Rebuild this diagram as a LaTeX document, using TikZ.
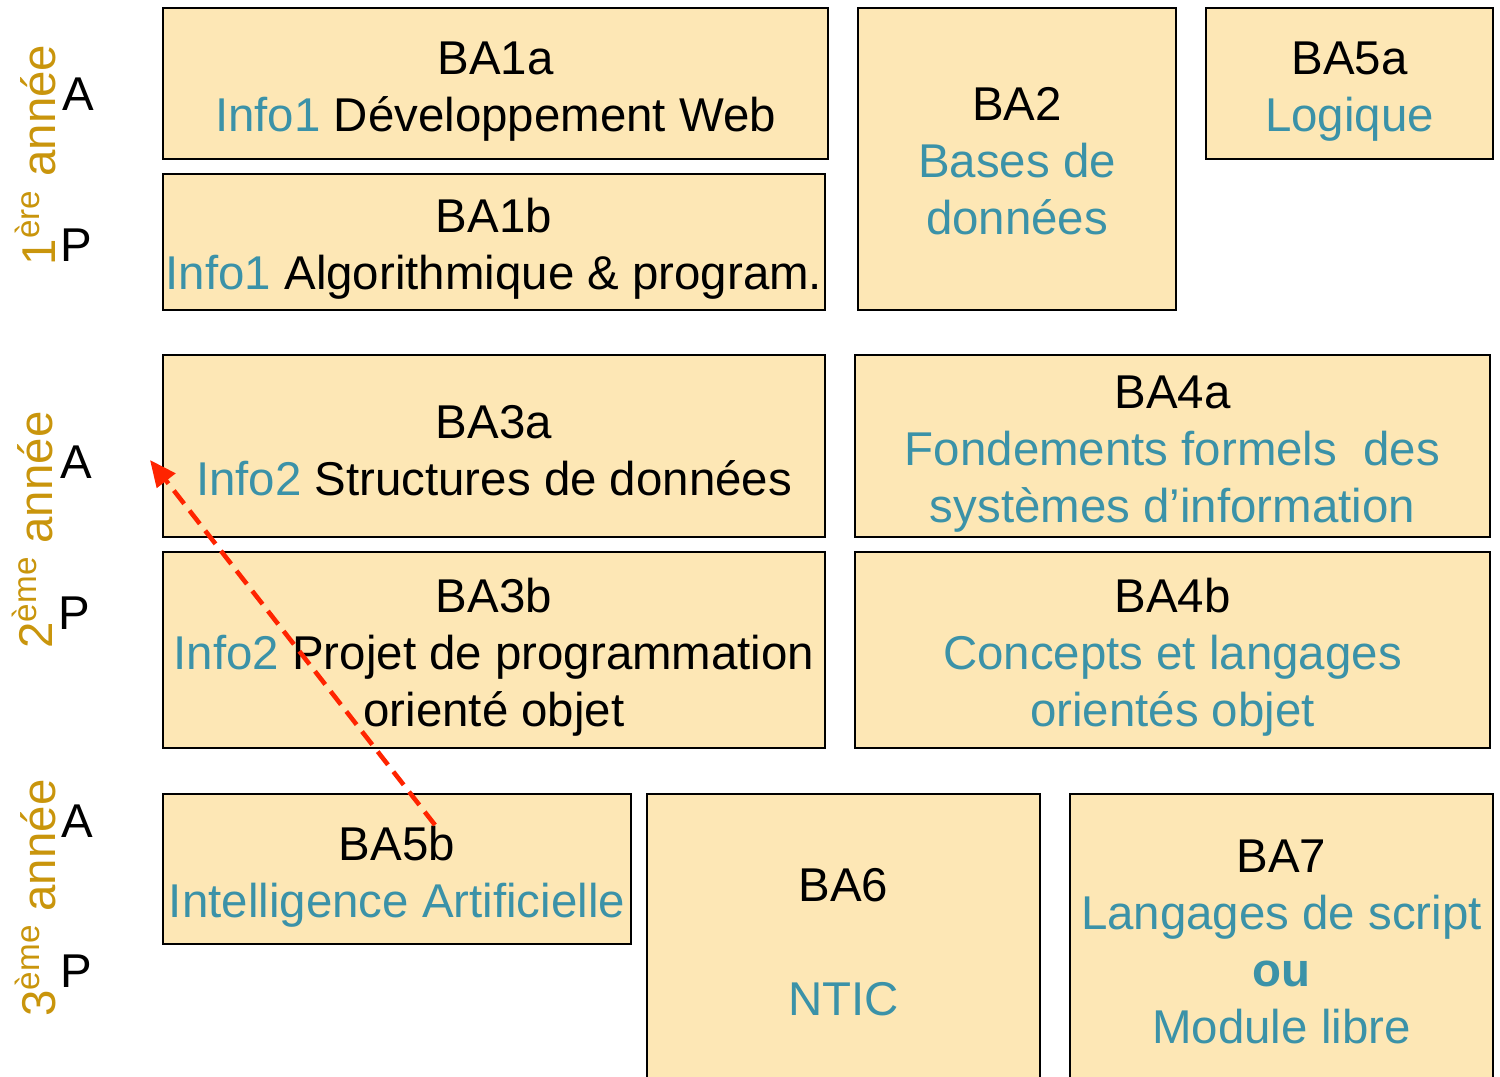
\documentclass[tikz,border=0pt]{standalone}
\usepackage{fontspec}
\setmainfont{Liberation Sans}
\usetikzlibrary{arrows.meta}
\definecolor{coursefill}{RGB}{253,231,181}
\definecolor{infoteal}{RGB}{59,146,168}
\definecolor{yeargold}{RGB}{201,149,12}
\definecolor{prereqred}{RGB}{255,36,0}
\newcommand{\ctext}[1]{\textcolor{infoteal}{#1}}
\newcommand{\code}[2][27.5pt]{\rule{0pt}{#1}#2}

\begin{document}
\begin{tikzpicture}[x=0.02cm, y=-0.02cm,
  course/.style={draw, fill=coursefill, line width=1.1pt, inner sep=0pt, align=center, font=\fontsize{27}{32.4}\selectfont},
  year/.style={rotate=90, anchor=base, text=yeargold, font=\fontsize{27}{30}\selectfont},
  sem/.style={anchor=base, font=\fontsize{27}{30}\selectfont},
  prereq/.style={prereqred, line width=2.6pt, dash pattern=on 9.5pt off 5pt, -{Triangle[length=15pt, width=13pt]}}]
\useasboundingbox (0,0) rectangle (1500,1077);
% years and semesters
\node[year] (y1) at (55,155) {1\textsuperscript{ère} année};
\node[year] (y2) at (52,530) {2\textsuperscript{ème} année};
\node[year] (y3) at (55,898) {3\textsuperscript{ème} année};
\node[sem] (a1) at (78,111) {A};
\node[sem] (p1) at (76,262) {P};
\node[sem] (a2) at (76,479) {A};
\node[sem] (p2) at (74,629) {P};
\node[sem] (a3) at (77,837) {A};
\node[sem] (p3) at (76,987) {P};
% courses
\node[course, minimum width=13.30cm, minimum height=3.02cm] (ba1a) at (495.5,83.5) {\code{BA1a}\\\ctext{Info1} Développement Web};
\node[course, minimum width=13.24cm, minimum height=2.72cm] (ba1b) at (494,242) {\code{BA1b}\\\ctext{Info1} Algorithmique \& program.};
\node[course, minimum width=6.36cm, minimum height=6.04cm] (ba2) at (1017,159) {\code[21.5pt]{BA2}\\\ctext{Bases de}\\\ctext{données}};
\node[course, minimum width=5.74cm, minimum height=3.02cm] (ba5a) at (1349.5,83.5) {\code{BA5a}\\\ctext{Logique}};
\node[course, minimum width=13.24cm, minimum height=3.64cm] (ba3a) at (494,446) {\code[24pt]{BA3a}\\\ctext{Info2} Structures de données};
\node[course, minimum width=12.70cm, minimum height=3.64cm] (ba4a) at (1172.5,446) {\code{BA4a}\\\ctext{Fondements formels~ des}\\\ctext{systèmes d’information}};
\node[course, minimum width=13.24cm, minimum height=3.92cm] (ba3b) at (494,650) {\code{BA3b}\\\ctext{Info2} Projet de programmation\\orienté objet};
\node[course, minimum width=12.70cm, minimum height=3.92cm] (ba4b) at (1172.5,650) {\code{BA4b}\\\ctext{Concepts et langages}\\\ctext{orientés objet}};
\node[course, minimum width=9.36cm, minimum height=3.00cm] (ba5b) at (397,869) {\code[28pt]{BA5b}\\\ctext{Intelligence Artificielle}};
\node[course, minimum width=7.86cm, minimum height=5.92cm] (ba6) at (843.5,942) {BA6\\~\\\ctext{NTIC}};
\node[course, minimum width=8.46cm, minimum height=5.92cm] (ba7) at (1281.5,942) {BA7\\\ctext{Langages de script}\\\ctext{\textbf{ou}}\\\ctext{Module libre}};
% prerequisite
\coordinate (from) at (435,825);
\coordinate (to) at (150,460);
\draw[prereq] (from) -- (to);
\end{tikzpicture}
\end{document}
